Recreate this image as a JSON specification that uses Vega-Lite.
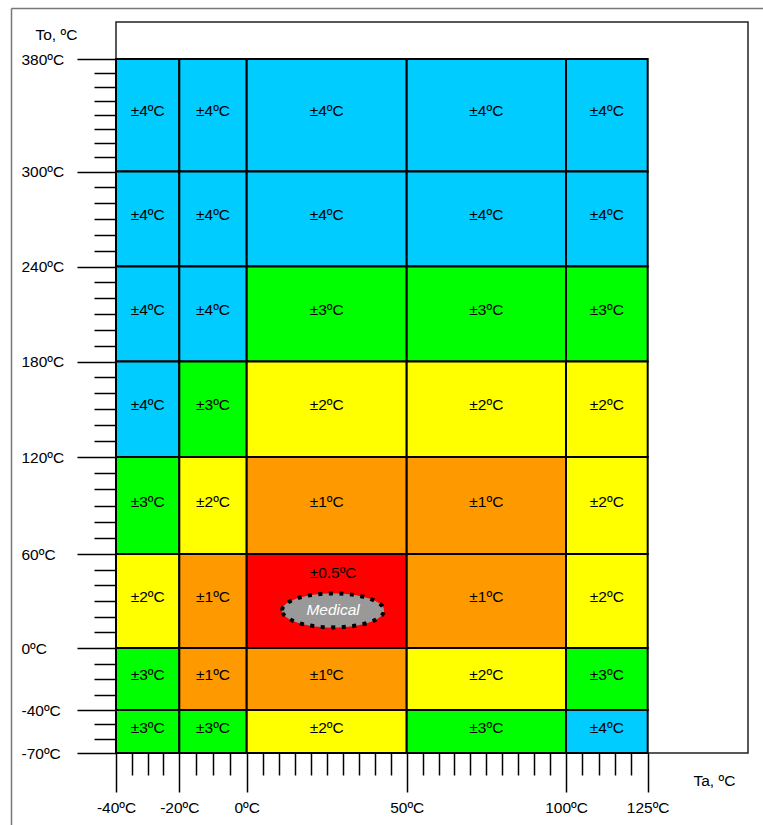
{
  "$schema": "https://vega.github.io/schema/vega-lite/v6.json",
  "autosize": {"type": "none"},
  "padding": {"left": 116, "top": 22, "right": 15, "bottom": 72},
  "width": 632,
  "height": 731,
  "background": "white",
  "config": {
    "view": {"stroke": "#222222", "strokeWidth": 1.5},
    "font": "Liberation Sans",
    "text": {"font": "Liberation Sans", "fontSize": 15.5}
  },
  "datasets": {
    "cells": [
      {"ta1": -40, "ta2": -20, "to1": 300, "to2": 380, "acc": "±4ºC"},
      {"ta1": -20, "ta2": 0, "to1": 300, "to2": 380, "acc": "±4ºC"},
      {"ta1": 0, "ta2": 50, "to1": 300, "to2": 380, "acc": "±4ºC"},
      {"ta1": 50, "ta2": 100, "to1": 300, "to2": 380, "acc": "±4ºC"},
      {"ta1": 100, "ta2": 125, "to1": 300, "to2": 380, "acc": "±4ºC"},
      {"ta1": -40, "ta2": -20, "to1": 240, "to2": 300, "acc": "±4ºC"},
      {"ta1": -20, "ta2": 0, "to1": 240, "to2": 300, "acc": "±4ºC"},
      {"ta1": 0, "ta2": 50, "to1": 240, "to2": 300, "acc": "±4ºC"},
      {"ta1": 50, "ta2": 100, "to1": 240, "to2": 300, "acc": "±4ºC"},
      {"ta1": 100, "ta2": 125, "to1": 240, "to2": 300, "acc": "±4ºC"},
      {"ta1": -40, "ta2": -20, "to1": 180, "to2": 240, "acc": "±4ºC"},
      {"ta1": -20, "ta2": 0, "to1": 180, "to2": 240, "acc": "±4ºC"},
      {"ta1": 0, "ta2": 50, "to1": 180, "to2": 240, "acc": "±3ºC"},
      {"ta1": 50, "ta2": 100, "to1": 180, "to2": 240, "acc": "±3ºC"},
      {"ta1": 100, "ta2": 125, "to1": 180, "to2": 240, "acc": "±3ºC"},
      {"ta1": -40, "ta2": -20, "to1": 120, "to2": 180, "acc": "±4ºC"},
      {"ta1": -20, "ta2": 0, "to1": 120, "to2": 180, "acc": "±3ºC"},
      {"ta1": 0, "ta2": 50, "to1": 120, "to2": 180, "acc": "±2ºC"},
      {"ta1": 50, "ta2": 100, "to1": 120, "to2": 180, "acc": "±2ºC"},
      {"ta1": 100, "ta2": 125, "to1": 120, "to2": 180, "acc": "±2ºC"},
      {"ta1": -40, "ta2": -20, "to1": 60, "to2": 120, "acc": "±3ºC"},
      {"ta1": -20, "ta2": 0, "to1": 60, "to2": 120, "acc": "±2ºC"},
      {"ta1": 0, "ta2": 50, "to1": 60, "to2": 120, "acc": "±1ºC"},
      {"ta1": 50, "ta2": 100, "to1": 60, "to2": 120, "acc": "±1ºC"},
      {"ta1": 100, "ta2": 125, "to1": 60, "to2": 120, "acc": "±2ºC"},
      {"ta1": -40, "ta2": -20, "to1": 0, "to2": 60, "acc": "±2ºC"},
      {"ta1": -20, "ta2": 0, "to1": 0, "to2": 60, "acc": "±1ºC"},
      {"ta1": 0, "ta2": 50, "to1": 0, "to2": 60, "acc": "±0.5ºC"},
      {"ta1": 50, "ta2": 100, "to1": 0, "to2": 60, "acc": "±1ºC"},
      {"ta1": 100, "ta2": 125, "to1": 0, "to2": 60, "acc": "±2ºC"},
      {"ta1": -40, "ta2": -20, "to1": -40, "to2": 0, "acc": "±3ºC"},
      {"ta1": -20, "ta2": 0, "to1": -40, "to2": 0, "acc": "±1ºC"},
      {"ta1": 0, "ta2": 50, "to1": -40, "to2": 0, "acc": "±1ºC"},
      {"ta1": 50, "ta2": 100, "to1": -40, "to2": 0, "acc": "±2ºC"},
      {"ta1": 100, "ta2": 125, "to1": -40, "to2": 0, "acc": "±3ºC"},
      {"ta1": -40, "ta2": -20, "to1": -70, "to2": -40, "acc": "±3ºC"},
      {"ta1": -20, "ta2": 0, "to1": -70, "to2": -40, "acc": "±3ºC"},
      {"ta1": 0, "ta2": 50, "to1": -70, "to2": -40, "acc": "±2ºC"},
      {"ta1": 50, "ta2": 100, "to1": -70, "to2": -40, "acc": "±3ºC"},
      {"ta1": 100, "ta2": 125, "to1": -70, "to2": -40, "acc": "±4ºC"}
    ],
    "notes": [
      {"ta": 27, "to": 48, "label": "±0.5ºC", "kind": "accuracy"},
      {"ta": 27, "to": 24, "label": "Medical", "kind": "region"}
    ]
  },
  "resolve": {"scale": {"x": "independent", "y": "independent"}, "axis": {"x": "independent", "y": "independent"}},
  "layer": [
    {
      "resolve": {"axis": {"x": "independent", "y": "independent"}},
      "layer": [
        {
          "data": {"name": "cells"},
          "mark": {"type": "rect", "stroke": "black", "strokeWidth": 2},
          "encoding": {
            "x": {
              "field": "ta1", "type": "quantitative",
              "scale": {"domain": [-40, -20, 0, 50, 100, 125], "range": [0, 63.3, 130.7, 290.7, 450, 531.7], "nice": false, "zero": false},
              "axis": {
                "orient": "bottom",
                "title": "Ta, ºC", "titleX": 577, "titleY": 27, "titleAlign": "left", "titleBaseline": "middle", "titleAngle": 0,
                "titleFont": "Liberation Sans", "titleFontSize": 15.5, "titleFontWeight": "normal", "titleColor": "black",
                "values": [-40, -20, 0, 50, 100, 125],
                "labelExpr": "datum.value + 'ºC'",
                "labelFont": "Liberation Sans", "labelFontSize": 15.5, "labelColor": "black", "labelPadding": 8,
                "labelOverlap": false, "labelBound": false, "labelFlush": false, "labelAngle": 0,
                "tickSize": 39, "tickColor": "black", "tickWidth": 1.5, "domain": false, "grid": false
              }
            },
            "x2": {"field": "ta2"},
            "y": {
              "field": "to1", "type": "quantitative",
              "scale": {"domain": [-70, -40, 0, 60, 120, 180, 240, 300, 380], "range": [731, 688, 626, 532, 435, 339.5, 244.5, 149.5, 37], "nice": false, "zero": false},
              "axis": {
                "orient": "left",
                "title": "To, ºC", "titleX": -81, "titleY": 12, "titleAlign": "left", "titleBaseline": "middle", "titleAngle": 0,
                "titleFont": "Liberation Sans", "titleFontSize": 15.5, "titleFontWeight": "normal", "titleColor": "black",
                "values": [-70, -40, 0, 60, 120, 180, 240, 300, 380],
                "labelExpr": "datum.value + 'ºC'",
                "labelFont": "Liberation Sans", "labelFontSize": 15.5, "labelColor": "black", "labelPadding": 56,
                "labelAlign": "left", "labelBaseline": "middle",
                "labelOverlap": false, "labelBound": false, "labelFlush": false,
                "tickSize": 39, "tickColor": "black", "tickWidth": 1.5, "domain": false, "grid": false
              }
            },
            "y2": {"field": "to2"},
            "color": {
              "field": "acc", "type": "nominal",
              "scale": {"domain": ["±0.5ºC", "±1ºC", "±2ºC", "±3ºC", "±4ºC"], "range": ["#FF0000", "#FF9900", "#FFFF00", "#00FF00", "#00CCFF"]},
              "legend": null
            }
          }
        },
        {
          "data": {"name": "cells"},
          "transform": [
            {"filter": "datum.acc !== '±0.5ºC'"},
            {"calculate": "(datum.ta1 + datum.ta2) / 2", "as": "tam"},
            {"calculate": "(datum.to1 + datum.to2) / 2", "as": "tom"}
          ],
          "mark": {"type": "text", "font": "Liberation Sans", "fontSize": 15.5, "color": "black", "align": "center", "baseline": "middle", "dy": -4},
          "encoding": {
            "x": {
              "field": "tam", "type": "quantitative",
              "axis": {
                "orient": "bottom", "title": null, "labels": false, "domain": false, "grid": false,
                "values": [-35, -30, -25, -15, -10, -5, 5, 10, 15, 20, 25, 30, 35, 40, 45, 55, 60, 65, 70, 75, 80, 85, 90, 95, 105, 110, 115, 120],
                "tickSize": 22, "tickColor": "black", "tickWidth": 1.5
              }
            },
            "y": {
              "field": "tom", "type": "quantitative",
              "axis": {
                "orient": "left", "title": null, "labels": false, "domain": false, "grid": false,
                "values": [-60, -50, -30, -20, -10, 10, 20, 30, 40, 50, 70, 80, 90, 100, 110, 130, 140, 150, 160, 170, 190, 200, 210, 220, 230, 250, 260, 270, 280, 290, 310, 320, 330, 340, 350, 360, 370],
                "tickSize": 22, "tickColor": "black", "tickWidth": 1.5
              }
            },
            "text": {"field": "acc"}
          }
        },
        {
          "data": {"name": "notes"},
          "transform": [{"filter": "datum.kind === 'region'"}],
          "mark": {
            "type": "point",
            "shape": "M-1,0C-1,-0.184 -0.552,-0.333 0,-0.333C0.552,-0.333 1,-0.184 1,0C1,0.184 0.552,0.333 0,0.333C-0.552,0.333 -1,0.184 -1,0Z",
            "size": 10404, "filled": true, "fill": "#999999", "fillOpacity": 1, "opacity": 1,
            "stroke": "black", "strokeWidth": 4, "strokeDash": [4, 6.5]
          },
          "encoding": {
            "x": {"field": "ta", "type": "quantitative", "axis": null},
            "y": {"field": "to", "type": "quantitative", "axis": null}
          }
        },
        {
          "data": {"name": "notes"},
          "transform": [{"filter": "datum.kind === 'region'"}],
          "mark": {"type": "text", "font": "Liberation Sans", "fontSize": 15.5, "fontStyle": "italic", "color": "white", "align": "center", "baseline": "middle"},
          "encoding": {
            "x": {"field": "ta", "type": "quantitative", "axis": null},
            "y": {"field": "to", "type": "quantitative", "axis": null},
            "text": {"field": "label"}
          }
        },
        {
          "data": {"name": "notes"},
          "transform": [{"filter": "datum.kind === 'accuracy'"}],
          "mark": {"type": "text", "font": "Liberation Sans", "fontSize": 15.5, "color": "black", "align": "center", "baseline": "middle"},
          "encoding": {
            "x": {"field": "ta", "type": "quantitative", "axis": null},
            "y": {"field": "to", "type": "quantitative", "axis": null},
            "text": {"field": "label"}
          }
        }
      ]
    },
    {
      "data": {"name": "notes"},
      "mark": {"type": "point", "opacity": 0, "size": 0},
      "encoding": {
        "x": {
          "field": "ta", "type": "quantitative",
          "scale": {"domain": [-40, 125], "range": [-105, 760], "nice": false, "zero": false},
          "axis": {"orient": "top", "offset": 14, "title": null, "labels": false, "ticks": false, "grid": false, "domain": true, "domainColor": "#777777", "domainWidth": 1.5}
        },
        "y": {
          "field": "to", "type": "quantitative",
          "scale": {"domain": [-70, 380], "range": [820, -14], "nice": false, "zero": false},
          "axis": {"orient": "left", "offset": 105, "title": null, "labels": false, "ticks": false, "grid": false, "domain": true, "domainColor": "#777777", "domainWidth": 1.5}
        }
      }
    }
  ]
}
